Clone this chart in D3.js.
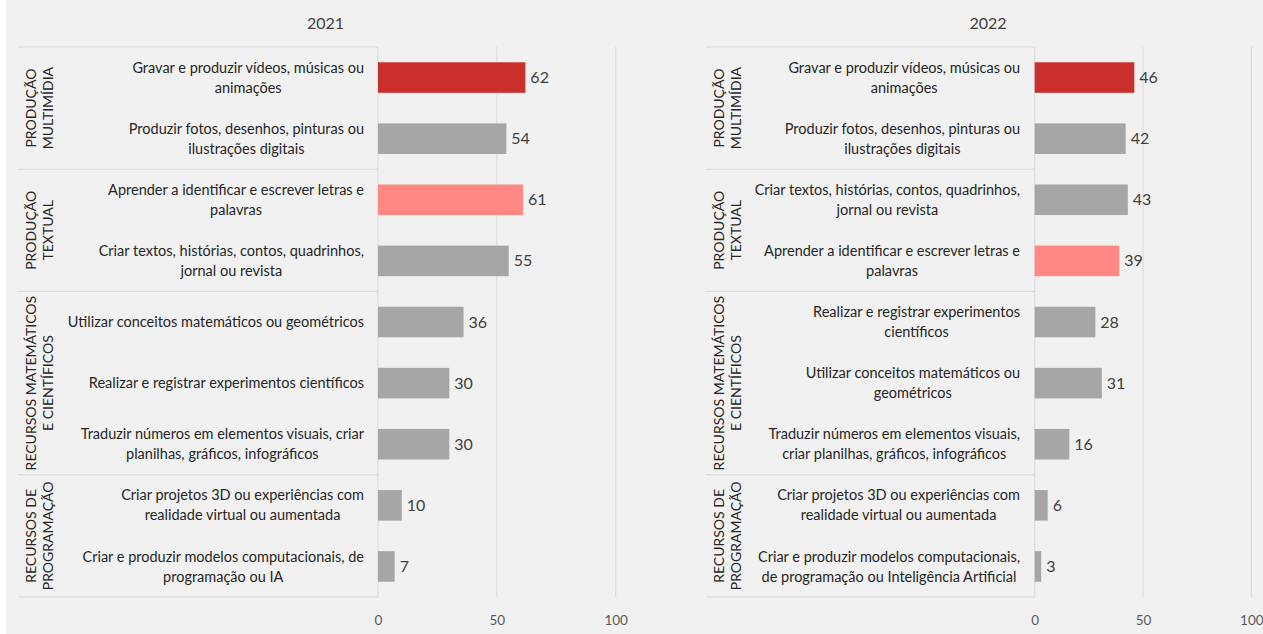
<!DOCTYPE html>
<html>
<head>
<meta charset="utf-8">
<script src="https://cdn.jsdelivr.net/npm/d3@7"></script>
<style>
  html, body { margin: 0; padding: 0; background: #f1f1f1; }
  svg { display: block; }
</style>
</head>
<body>
<svg id="chart" width="1263" height="634"></svg>
<script>
// ---------- DATA ----------
const groups = [
  ["PRODUÇÃO", "MULTIMÍDIA"],
  ["PRODUÇÃO", "TEXTUAL"],
  ["RECURSOS MATEMÁTICOS", "E CIENTÍFICOS"],
  ["RECURSOS DE", "PROGRAMAÇÃO"]
];
const groupSizes = [2, 2, 3, 2];

const years = ["2021", "2022"];

const labels2021 = [
  ["Gravar e produzir vídeos, músicas ou", "animações"],
  ["Produzir fotos, desenhos, pinturas ou", "ilustrações digitais"],
  ["Aprender a identificar e escrever letras e", "palavras"],
  ["Criar textos, histórias, contos, quadrinhos,", "jornal ou revista"],
  ["Utilizar conceitos matemáticos ou geométricos"],
  ["Realizar e registrar experimentos científicos"],
  ["Traduzir números em elementos visuais, criar", "planilhas, gráficos, infográficos"],
  ["Criar projetos 3D ou experiências com", "realidade virtual ou aumentada"],
  ["Criar e produzir modelos computacionais, de", "programação ou IA"]
];
const values2021 = [62, 54, 61, 55, 36, 30, 30, 10, 7];
const colors2021 = ["dark", "gray", "light", "gray", "gray", "gray", "gray", "gray", "gray"];

const labels2022 = [
  ["Gravar e produzir vídeos, músicas ou", "animações"],
  ["Produzir fotos, desenhos, pinturas ou", "ilustrações digitais"],
  ["Criar textos, histórias, contos, quadrinhos,", "jornal ou revista"],
  ["Aprender a identificar e escrever letras e", "palavras"],
  ["Realizar e registrar experimentos", "científicos"],
  ["Utilizar conceitos matemáticos ou", "geométricos"],
  ["Traduzir números em elementos visuais,", "criar planilhas, gráficos, infográficos"],
  ["Criar projetos 3D ou experiências com", "realidade virtual ou aumentada"],
  ["Criar e produzir modelos computacionais,", "de programação ou Inteligência Artificial"]
];
const values2022 = [46, 42, 43, 39, 28, 31, 16, 6, 3];
const colors2022 = ["dark", "gray", "gray", "light", "gray", "gray", "gray", "gray", "gray"];

const xTicks = [0, 50, 100];

// ---------- STYLE ----------
const palette = { dark: "#c9302c", light: "#ff8784", gray: "#a6a6a6" };
const FONT = "'Segoe UI', Lato, 'Open Sans', sans-serif";

const svg = d3.select("#chart");
svg.append("rect").attr("x", 0).attr("y", 0).attr("width", 6).attr("height", 634).attr("fill", "#ffffff");

const panels = [
  { year: years[0], labels: labels2021, values: values2021, colors: colors2021,
    lineStart: 18, axisX: 378, x100: 615.7, labelRight: 364, titleX: 325.5 },
  { year: years[1], labels: labels2022, values: values2022, colors: colors2022,
    lineStart: 706, axisX: 1034.7, x100: 1251.3, labelRight: 1020, titleX: 988 }
];

const plotTop = 47, plotBottom = 597;

panels.forEach(p => {
  const g = svg.append("g");
  const idx = d3.range(p.values.length);
  const y = d3.scaleBand().domain(idx).range([plotTop, plotBottom]).paddingInner(0.5).paddingOuter(0.25);
  const x = d3.scaleLinear().domain([0, 100]).range([p.axisX, p.x100]);
  const step = y.step();

  // title
  g.append("text").attr("x", p.titleX).attr("y", 29)
    .attr("text-anchor", "middle").attr("font-family", FONT).attr("font-size", 16)
    .attr("fill", "#404040").text(p.year);

  // gridlines
  g.selectAll(".grid").data(xTicks.filter(t => t > 0)).enter().append("line")
    .attr("x1", d => x(d)).attr("x2", d => x(d))
    .attr("y1", plotTop).attr("y2", plotBottom)
    .attr("stroke", "#d9d9d9").attr("stroke-width", 1);

  // group separators
  let starts = [0];
  groupSizes.forEach((s, i) => starts.push(starts[i] + s));
  starts.forEach(s => {
    const yy = plotTop + s * step;
    g.append("line").attr("x1", p.lineStart).attr("x2", p.axisX)
      .attr("y1", yy).attr("y2", yy).attr("stroke", "#d9d9d9").attr("stroke-width", 1);
  });
  // vertical axis line
  g.append("line").attr("x1", p.axisX).attr("x2", p.axisX)
    .attr("y1", plotTop).attr("y2", plotBottom).attr("stroke", "#d9d9d9").attr("stroke-width", 1);

  // group labels (rotated)
  groups.forEach((lines, gi) => {
    const cy = plotTop + (starts[gi] + groupSizes[gi] / 2) * step;
    const cx = p.lineStart + 21.5;
    const t = g.append("text")
      .attr("transform", `translate(${cx},${cy}) rotate(-90)`)
      .attr("text-anchor", "middle").attr("font-family", FONT).attr("font-size", 14)
      .attr("fill", "#262626");
    lines.forEach((ln, li) => {
      t.append("tspan").attr("x", 0)
        .attr("y", (li - (lines.length - 1) / 2) * 17)
        .attr("dy", "0.35em").text(ln);
    });
  });

  // item labels
  idx.forEach(i => {
    const lines = p.labels[i];
    const cy = y(i) + y.bandwidth() / 2;
    const t = g.append("text").attr("text-anchor", "middle")
      .attr("font-family", FONT).attr("font-size", 14.5).attr("fill", "#262626");
    const tmp = [];
    lines.forEach((ln, li) => {
      tmp.push(t.append("tspan")
        .attr("y", cy + (li - (lines.length - 1) / 2) * 20)
        .attr("dy", "0.35em").text(ln));
    });
    const widths = tmp.map(s => s.node().getComputedTextLength());
    const maxW = d3.max(widths);
    tmp.forEach(s => s.attr("x", p.labelRight - maxW / 2));
  });

  // bars
  g.selectAll(".bar").data(idx).enter().append("rect")
    .attr("x", x(0)).attr("y", d => y(d))
    .attr("width", d => x(p.values[d]) - x(0))
    .attr("height", y.bandwidth())
    .attr("fill", d => palette[p.colors[d]]);

  // value labels
  g.selectAll(".val").data(idx).enter().append("text")
    .attr("x", d => x(p.values[d]) + 5)
    .attr("y", d => y(d) + y.bandwidth() / 2)
    .attr("dy", "0.35em").attr("font-family", FONT).attr("font-size", 16)
    .attr("fill", "#404040").text(d => p.values[d]);

  // x axis
  const ax = g.append("g").attr("transform", `translate(0,${plotBottom + 13})`)
    .call(d3.axisBottom(x).tickValues(xTicks).tickSize(0).tickPadding(5));
  ax.select(".domain").remove();
  ax.selectAll("text").attr("font-family", FONT).attr("font-size", 13.5).attr("fill", "#595959");
});
</script>
</body>
</html>
